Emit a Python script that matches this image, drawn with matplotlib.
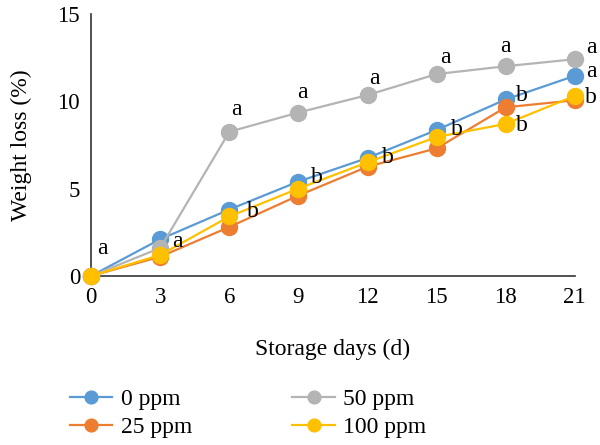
import matplotlib
matplotlib.use("Agg")
import matplotlib.pyplot as plt

days = [0, 3, 6, 9, 12, 15, 18, 21]
ppm0 = [0, 2.1, 3.8, 5.4, 6.75, 8.35, 10.1, 11.45]
ppm25 = [0, 1.1, 2.8, 4.6, 6.25, 7.3, 9.65, 10.05]
ppm50 = [0, 1.6, 8.25, 9.35, 10.35, 11.55, 12.0, 12.4]
ppm100 = [0, 1.2, 3.4, 5.0, 6.5, 7.95, 8.7, 10.3]

labels = ["0 ppm", "25 ppm", "50 ppm", "100 ppm"]
colors = ["#5B9BD5", "#ED7D31", "#B4B4B4", "#FFC000"]

# significance letters: (day, letter, x position, y position)
letters = [
    (0, "a", 0.5, 1.55), (3, "a", 3.75, 1.95), (6, "a", 6.3, 9.5),
    (9, "a", 9.15, 10.5), (12, "a", 12.3, 11.3), (15, "a", 15.4, 12.5),
    (18, "a", 18.0, 13.1), (21, "a", 21.7, 13.05), (21, "a", 21.7, 11.7),
    (21, "b", 21.7, 10.2), (18, "b", 18.7, 10.3), (18, "b", 18.7, 8.6),
    (15, "b", 15.9, 8.4), (12, "b", 12.9, 6.8), (9, "b", 9.8, 5.65),
    (6, "b", 7.0, 3.7),
]

plt.rcParams["font.family"] = ["Liberation Serif", "DejaVu Serif"]

fig = plt.figure(figsize=(6, 4.45), dpi=100)
ax = fig.add_axes([0.152, 0.380, 0.806, 0.589])

for series, lab, col in zip([ppm0, ppm25, ppm50, ppm100], labels, colors):
    ax.plot(days, series, color=col, lw=1.6, marker="o", ms=11.5,
            label=lab, clip_on=False, zorder=3)

for d, t, x, y in letters:
    ax.text(x, y, t, fontsize=17, ha="center", va="center")

ax.set_xlim(0, 21)
ax.set_ylim(0, 15)
ax.set_xticks(days)
ax.set_yticks([0, 5, 10, 15])
ax.tick_params(length=0, labelsize=16.5, pad=8)
for s in ["top", "right"]:
    ax.spines[s].set_visible(False)
for s in ["left", "bottom"]:
    ax.spines[s].set_color("#333333")
    ax.spines[s].set_linewidth(1.2)

ax.set_ylabel("Weight loss (%)", fontsize=17, labelpad=18)
ax.set_xlabel("Storage days (d)", fontsize=17, labelpad=22)

ax.legend(loc="upper left", bbox_to_anchor=(-0.088, -0.35), ncol=2,
          frameon=False, fontsize=17, handlelength=1.8, handletextpad=0.35,
          columnspacing=4.25, labelspacing=0.25, markerscale=0.8)

fig.savefig("out.png", dpi=100)
